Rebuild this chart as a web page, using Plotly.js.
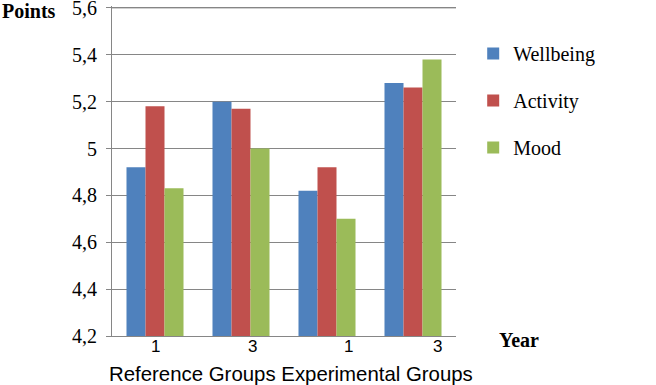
<!DOCTYPE html>
<html>
<head>
<meta charset="utf-8">
<script src="https://cdn.plot.ly/plotly-3.0.1.min.js"></script>
<style>html,body{margin:0;padding:0;background:#fff;}#chart{width:656px;height:385px;}</style>
</head>
<body>
<div id="chart"></div>
<script>
var groups = ["Reference Groups", "Experimental Groups"];
var yearLabels = ["1", "3", "1", "3"];
var positions = [0, 1, 2, 3];
var wellbeing = [4.92, 5.20, 4.82, 5.28];
var activity = [5.18, 5.17, 4.92, 5.26];
var mood = [4.83, 5.00, 4.70, 5.38];
var yTicks = [4.2, 4.4, 4.6, 4.8, 5.0, 5.2, 5.4, 5.6];
var yTickText = ["4,2", "4,4", "4,6", "4,8", "5", "5,2", "5,4", "5,6"];
var seriesNames = ["Wellbeing", "Activity", "Mood"];
var seriesColors = ["#4F81BD", "#C0504D", "#9BBB59"];

var serif = "Liberation Serif, Times New Roman, serif";
var sans = "Liberation Sans, Arial, sans-serif";
var values = [wellbeing, activity, mood];
var traces = values.map(function (v, i) {
  return {
    type: "bar",
    x: positions,
    y: v,
    name: seriesNames[i],
    legendgroup: "g" + i,
    marker: { color: seriesColors[i], line: { width: 0 } },
    hoverinfo: "skip"
  };
});

var labelShift = [0, 0.13, 0.245, 0.28];
var annotations = yearLabels.map(function (t, i) {
  return {
    text: t, x: positions[i] + labelShift[i], xref: "x", y: 0, yref: "paper",
    yanchor: "top", yshift: 1, showarrow: false,
    font: { family: sans, size: 17, color: "#000" }
  };
});
annotations.push({
  text: groups.join(" "), x: 0.52, xref: "paper", y: 0, yref: "paper",
  yanchor: "top", yshift: -25, showarrow: false,
  font: { family: sans, size: 20.4, color: "#000" }
});
annotations.push({
  text: "<b>Points</b>", x: 0, xref: "paper", xshift: -112, xanchor: "left",
  y: 1, yref: "paper", yanchor: "middle", yshift: -5, showarrow: false,
  font: { family: serif, size: 20, color: "#000" }
});
annotations.push({
  text: "<b>Year</b>", x: 1, xref: "paper", xshift: 41, xanchor: "left",
  y: 0, yref: "paper", yanchor: "middle", yshift: -4, showarrow: false,
  font: { family: serif, size: 20, color: "#000" }
});

var topTick = yTicks[yTicks.length - 1];
var layout = {
  width: 656, height: 385,
  margin: { l: 112, r: 200, t: 6, b: 49 },
  paper_bgcolor: "#fff", plot_bgcolor: "#fff",
  barmode: "group", bargap: 0.337, bargroupgap: 0,
  xaxis: {
    range: [-0.5, 3.5], showticklabels: false, showgrid: false, zeroline: false,
    showline: true, linecolor: "#868686", linewidth: 1, ticks: "", fixedrange: true
  },
  yaxis: {
    range: [4.2, 5.608], tickmode: "array", tickvals: yTicks, ticktext: yTickText,
    showgrid: true, gridcolor: "#868686", ticklabeloverflow: "allow",
    gridwidth: 1, zeroline: false, showline: true, linecolor: "#868686", linewidth: 1,
    ticks: "outside", ticklen: 5, tickcolor: "#868686", ticklabelstandoff: 5,
    tickfont: { family: serif, size: 20, color: "#000" }, fixedrange: true
  },
  shapes: [{
    type: "line", xref: "paper", yref: "y", x0: 0, x1: 1, y0: topTick, y1: topTick,
    line: { color: "#868686", width: 1 }, layer: "below"
  }],
  legend: {
    x: 1.05, xanchor: "left", y: 0.915, yanchor: "top",
    font: { family: serif, size: 20, color: "#000" },
    tracegroupgap: 18, itemclick: false, bgcolor: "rgba(0,0,0,0)"
  },
  annotations: annotations,
  showlegend: true
};

Plotly.newPlot("chart", traces, layout, { staticPlot: true, displayModeBar: false });
</script>
</body>
</html>
